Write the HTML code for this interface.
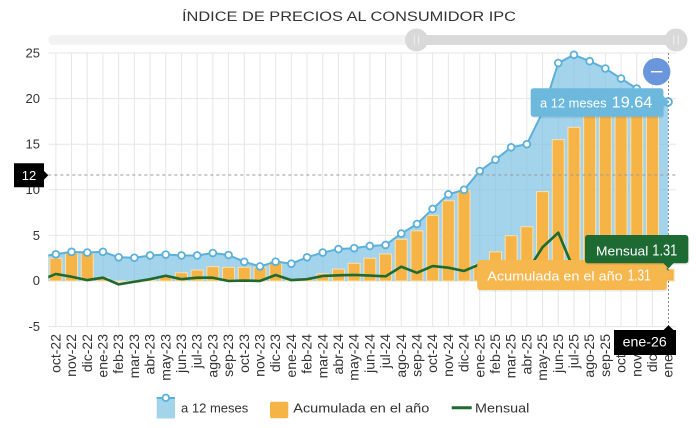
<!DOCTYPE html>
<html>
<head>
<meta charset="utf-8">
<style>
  html,body{margin:0;padding:0;background:#fff;}
  svg{display:block;font-family:"Liberation Sans",sans-serif;}
</style>
</head>
<body>
<svg width="696" height="428" viewBox="0 0 696 428" xmlns="http://www.w3.org/2000/svg">
  <defs>
    <clipPath id="plot"><rect x="48.3" y="40" width="628" height="300"/></clipPath>
  </defs>
  <rect width="696" height="428" fill="#fff"/>

  <!-- Title -->
  <text x="182" y="21" font-size="13.5" fill="#333" textLength="334" lengthAdjust="spacingAndGlyphs">ÍNDICE DE PRECIOS AL CONSUMIDOR IPC</text>

  <!-- Navigator / scrollbar -->
  <rect x="48.3" y="35" width="365" height="9.8" rx="4.9" fill="#f2f2f2"/>
  <rect x="408" y="35" width="277" height="10" rx="5" fill="#d9d9d9"/>
  <circle cx="416.5" cy="40" r="11.5" fill="#d9d9d9"/>
  <line x1="414.3" y1="35.5" x2="414.3" y2="44.5" stroke="#f2f2f2" stroke-width="1"/>
  <line x1="418.7" y1="35.5" x2="418.7" y2="44.5" stroke="#f2f2f2" stroke-width="1"/>
  <circle cx="676" cy="40" r="11.5" fill="#d9d9d9"/>
  <line x1="673.8" y1="35.5" x2="673.8" y2="44.5" stroke="#f2f2f2" stroke-width="1"/>
  <line x1="678.2" y1="35.5" x2="678.2" y2="44.5" stroke="#f2f2f2" stroke-width="1"/>

  <!-- Horizontal gridlines -->
  <g stroke="#e6e6e6" stroke-width="1">
    <line x1="48.3" y1="53" x2="676" y2="53"/>
    <line x1="48.3" y1="98.6" x2="676" y2="98.6"/>
    <line x1="48.3" y1="144.2" x2="676" y2="144.2"/>
    <line x1="48.3" y1="189.8" x2="676" y2="189.8"/>
    <line x1="48.3" y1="235.4" x2="676" y2="235.4"/>
    <line x1="48.3" y1="281" x2="676" y2="281"/>
    <line x1="48.3" y1="326.6" x2="676" y2="326.6"/>
  </g>
  <!-- Vertical gridlines -->
  <g stroke="#e6e6e6" stroke-width="1">
    <line x1="55.85" y1="53" x2="55.85" y2="326.6"/><line x1="71.55" y1="53" x2="71.55" y2="326.6"/>
    <line x1="87.25" y1="53" x2="87.25" y2="326.6"/><line x1="102.95" y1="53" x2="102.95" y2="326.6"/>
    <line x1="118.65" y1="53" x2="118.65" y2="326.6"/><line x1="134.35" y1="53" x2="134.35" y2="326.6"/>
    <line x1="150.05" y1="53" x2="150.05" y2="326.6"/><line x1="165.75" y1="53" x2="165.75" y2="326.6"/>
    <line x1="181.45" y1="53" x2="181.45" y2="326.6"/><line x1="197.15" y1="53" x2="197.15" y2="326.6"/>
    <line x1="212.85" y1="53" x2="212.85" y2="326.6"/><line x1="228.55" y1="53" x2="228.55" y2="326.6"/>
    <line x1="244.25" y1="53" x2="244.25" y2="326.6"/><line x1="259.95" y1="53" x2="259.95" y2="326.6"/>
    <line x1="275.65" y1="53" x2="275.65" y2="326.6"/><line x1="291.35" y1="53" x2="291.35" y2="326.6"/>
    <line x1="307.05" y1="53" x2="307.05" y2="326.6"/><line x1="322.75" y1="53" x2="322.75" y2="326.6"/>
    <line x1="338.45" y1="53" x2="338.45" y2="326.6"/><line x1="354.15" y1="53" x2="354.15" y2="326.6"/>
    <line x1="369.85" y1="53" x2="369.85" y2="326.6"/><line x1="385.55" y1="53" x2="385.55" y2="326.6"/>
    <line x1="401.25" y1="53" x2="401.25" y2="326.6"/><line x1="416.95" y1="53" x2="416.95" y2="326.6"/>
    <line x1="432.65" y1="53" x2="432.65" y2="326.6"/><line x1="448.35" y1="53" x2="448.35" y2="326.6"/>
    <line x1="464.05" y1="53" x2="464.05" y2="326.6"/><line x1="479.75" y1="53" x2="479.75" y2="326.6"/>
    <line x1="495.45" y1="53" x2="495.45" y2="326.6"/><line x1="511.15" y1="53" x2="511.15" y2="326.6"/>
    <line x1="526.85" y1="53" x2="526.85" y2="326.6"/><line x1="542.55" y1="53" x2="542.55" y2="326.6"/>
    <line x1="558.25" y1="53" x2="558.25" y2="326.6"/><line x1="573.95" y1="53" x2="573.95" y2="326.6"/>
    <line x1="589.65" y1="53" x2="589.65" y2="326.6"/><line x1="605.35" y1="53" x2="605.35" y2="326.6"/>
    <line x1="621.05" y1="53" x2="621.05" y2="326.6"/><line x1="636.75" y1="53" x2="636.75" y2="326.6"/>
    <line x1="652.45" y1="53" x2="652.45" y2="326.6"/>
  </g>

  <!-- Y axis labels -->
  <g font-size="13" fill="#333" text-anchor="end">
    <text x="40" y="57.5">25</text>
    <text x="40" y="103">20</text>
    <text x="40" y="148.6">15</text>
    <text x="40" y="194.2">10</text>
    <text x="40" y="239.8">5</text>
    <text x="40" y="285.2">0</text>
    <text x="40" y="331">-5</text>
  </g>

  <g clip-path="url(#plot)">
    <!-- Area fill (a 12 meses) -->
    <path fill="#7ec2e2" fill-opacity="0.7" d="M40.15,281 L40.15,256.38 L55.85,254.28 L71.55,251.82 L87.25,252.55 L102.95,251.82 L118.65,257.29 L134.35,257.74 L150.05,255.46 L165.75,254.55 L181.45,255.46 L197.15,255.46 L212.85,253.00 L228.55,255.01 L244.25,261.85 L259.95,266.41 L275.65,261.67 L291.35,263.67 L307.05,257.29 L322.75,252.55 L338.45,249.08 L354.15,248.17 L369.85,245.98 L385.55,244.98 L401.25,233.58 L416.95,224.00 L432.65,208.95 L448.35,194.36 L464.05,189.80 L479.75,171.01 L495.45,159.70 L511.15,147.30 L526.85,144.20 L542.55,112.28 L558.25,63.03 L573.95,54.82 L589.65,61.21 L605.35,68.50 L621.05,78.54 L636.75,88.57 L652.45,95.86 L668.15,101.88 L668.15,281 Z"/>

    <!-- Bars (Acumulada en el año) -->
    <g fill="#f6b447" stroke="#fbe0b0" stroke-width="1">
      <rect x="49.85" y="258.29" width="12" height="22.71"/>
      <rect x="65.55" y="252.73" width="12" height="28.27"/>
      <rect x="81.25" y="252.55" width="12" height="28.45"/>
      <rect x="96.95" y="277.72" width="12" height="3.28"/>
      <rect x="112.65" y="281" width="12" height="0.91"/>
      <rect x="128.35" y="281" width="12" height="1.37"/>
      <rect x="144.05" y="280.09" width="12" height="0.91"/>
      <rect x="159.75" y="276.44" width="12" height="4.56"/>
      <rect x="175.45" y="272.79" width="12" height="8.21"/>
      <rect x="191.15" y="270.06" width="12" height="10.94"/>
      <rect x="206.85" y="266.68" width="12" height="14.32"/>
      <rect x="222.55" y="267.32" width="12" height="13.68"/>
      <rect x="238.25" y="267.32" width="12" height="13.68"/>
      <rect x="253.95" y="267.32" width="12" height="13.68"/>
      <rect x="269.65" y="261.67" width="12" height="19.33"/>
      <rect x="285.35" y="280.09" width="12" height="0.91"/>
      <rect x="301.05" y="278.26" width="12" height="2.74"/>
      <rect x="316.75" y="273.70" width="12" height="7.30"/>
      <rect x="332.45" y="269.14" width="12" height="11.86"/>
      <rect x="348.15" y="263.31" width="12" height="17.69"/>
      <rect x="363.85" y="258.20" width="12" height="22.80"/>
      <rect x="379.55" y="254.00" width="12" height="27.00"/>
      <rect x="395.25" y="239.32" width="12" height="41.68"/>
      <rect x="410.95" y="230.84" width="12" height="50.16"/>
      <rect x="426.65" y="215.34" width="12" height="65.66"/>
      <rect x="442.35" y="200.74" width="12" height="80.26"/>
      <rect x="458.05" y="190.71" width="12" height="90.29"/>
      <rect x="473.75" y="264.58" width="12" height="16.42"/>
      <rect x="489.45" y="251.82" width="12" height="29.18"/>
      <rect x="505.15" y="235.67" width="12" height="45.33"/>
      <rect x="520.85" y="226.74" width="12" height="54.26"/>
      <rect x="536.55" y="191.62" width="12" height="89.38"/>
      <rect x="552.25" y="139.64" width="12" height="141.36"/>
      <rect x="567.95" y="127.33" width="12" height="153.67"/>
      <rect x="583.65" y="114.10" width="12" height="166.90"/>
      <rect x="599.35" y="111.38" width="12" height="169.62"/>
      <rect x="615.05" y="107.72" width="12" height="173.28"/>
      <rect x="630.75" y="102.25" width="12" height="178.75"/>
      <rect x="646.45" y="95.86" width="12" height="185.14"/>
      <rect x="662.15" y="269.05" width="12" height="11.95"/>
    </g>

    <!-- Area line -->
    <polyline fill="none" stroke="#5bb0da" stroke-width="2" stroke-linejoin="round" points="40.15,256.38 55.85,254.28 71.55,251.82 87.25,252.55 102.95,251.82 118.65,257.29 134.35,257.74 150.05,255.46 165.75,254.55 181.45,255.46 197.15,255.46 212.85,253.00 228.55,255.01 244.25,261.85 259.95,266.41 275.65,261.67 291.35,263.67 307.05,257.29 322.75,252.55 338.45,249.08 354.15,248.17 369.85,245.98 385.55,244.98 401.25,233.58 416.95,224.00 432.65,208.95 448.35,194.36 464.05,189.80 479.75,171.01 495.45,159.70 511.15,147.30 526.85,144.20 542.55,112.28 558.25,63.03 573.95,54.82 589.65,61.21 605.35,68.50 621.05,78.54 636.75,88.57 652.45,95.86 668.15,101.88"/>

    <!-- Markers -->
    <g fill="#fff" stroke="#5bb0da" stroke-width="1.8">
      <circle cx="55.85" cy="254.28" r="3.4"/><circle cx="71.55" cy="251.82" r="3.4"/>
      <circle cx="87.25" cy="252.55" r="3.4"/><circle cx="102.95" cy="251.82" r="3.4"/>
      <circle cx="118.65" cy="257.29" r="3.4"/><circle cx="134.35" cy="257.74" r="3.4"/>
      <circle cx="150.05" cy="255.46" r="3.4"/><circle cx="165.75" cy="254.55" r="3.4"/>
      <circle cx="181.45" cy="255.46" r="3.4"/><circle cx="197.15" cy="255.46" r="3.4"/>
      <circle cx="212.85" cy="253.00" r="3.4"/><circle cx="228.55" cy="255.01" r="3.4"/>
      <circle cx="244.25" cy="261.85" r="3.4"/><circle cx="259.95" cy="266.41" r="3.4"/>
      <circle cx="275.65" cy="261.67" r="3.4"/><circle cx="291.35" cy="263.67" r="3.4"/>
      <circle cx="307.05" cy="257.29" r="3.4"/><circle cx="322.75" cy="252.55" r="3.4"/>
      <circle cx="338.45" cy="249.08" r="3.4"/><circle cx="354.15" cy="248.17" r="3.4"/>
      <circle cx="369.85" cy="245.98" r="3.4"/><circle cx="385.55" cy="244.98" r="3.4"/>
      <circle cx="401.25" cy="233.58" r="3.4"/><circle cx="416.95" cy="224.00" r="3.4"/>
      <circle cx="432.65" cy="208.95" r="3.4"/><circle cx="448.35" cy="194.36" r="3.4"/>
      <circle cx="464.05" cy="189.80" r="3.4"/><circle cx="479.75" cy="171.01" r="3.4"/>
      <circle cx="495.45" cy="159.70" r="3.4"/><circle cx="511.15" cy="147.30" r="3.4"/>
      <circle cx="526.85" cy="144.20" r="3.4"/><circle cx="542.55" cy="112.28" r="3.4"/>
      <circle cx="558.25" cy="63.03" r="3.4"/><circle cx="573.95" cy="54.82" r="3.4"/>
      <circle cx="589.65" cy="61.21" r="3.4"/><circle cx="605.35" cy="68.50" r="3.4"/>
      <circle cx="621.05" cy="78.54" r="3.4"/><circle cx="636.75" cy="88.57" r="3.4"/>
      <circle cx="652.45" cy="95.86" r="3.4"/><circle cx="668.15" cy="101.88" r="3.8"/>
    </g>

    <!-- Mensual line -->
    <polyline fill="none" stroke="#1f6a30" stroke-width="2.6" stroke-linejoin="round" points="40.15,280.36 55.85,273.98 71.55,276.71 87.25,280.09 102.95,277.72 118.65,284.37 134.35,281.73 150.05,279.18 165.75,275.71 181.45,279.18 197.15,277.72 212.85,277.72 228.55,281 244.25,280.54 259.95,281 275.65,274.98 291.35,280.09 307.05,279.18 322.75,275.98 338.45,275.35 354.15,274.98 369.85,275.53 385.55,276.35 401.25,266.68 416.95,272.79 432.65,266.04 448.35,267.68 464.05,270.97 479.75,264.31 495.45,268.23 511.15,265.50 526.85,271.88 542.55,247.26 558.25,232.66 573.95,270.06 589.65,271.88 605.35,276.44 621.05,277.35 636.75,276.44 652.45,275.53 668.15,269.05"/>
  </g>

  <!-- Crosshairs -->
  <line x1="48.3" y1="175" x2="676" y2="175" stroke="#9a9a9a" stroke-width="1" stroke-dasharray="3,3"/>
  <line x1="668.5" y1="53" x2="668.5" y2="327" stroke="#8a8a8a" stroke-width="1" stroke-dasharray="2,2"/>

  <!-- X axis labels -->
  <g font-size="14" fill="#333" text-anchor="end">
    <text transform="translate(60.35,334) rotate(-90)">oct-22</text>
    <text transform="translate(76.05,334) rotate(-90)">nov-22</text>
    <text transform="translate(91.75,334) rotate(-90)">dic-22</text>
    <text transform="translate(107.45,334) rotate(-90)">ene-23</text>
    <text transform="translate(123.15,334) rotate(-90)">feb-23</text>
    <text transform="translate(138.85,334) rotate(-90)">mar-23</text>
    <text transform="translate(154.55,334) rotate(-90)">abr-23</text>
    <text transform="translate(170.25,334) rotate(-90)">may-23</text>
    <text transform="translate(185.95,334) rotate(-90)">jun-23</text>
    <text transform="translate(201.65,334) rotate(-90)">jul-23</text>
    <text transform="translate(217.35,334) rotate(-90)">ago-23</text>
    <text transform="translate(233.05,334) rotate(-90)">sep-23</text>
    <text transform="translate(248.75,334) rotate(-90)">oct-23</text>
    <text transform="translate(264.45,334) rotate(-90)">nov-23</text>
    <text transform="translate(280.15,334) rotate(-90)">dic-23</text>
    <text transform="translate(295.85,334) rotate(-90)">ene-24</text>
    <text transform="translate(311.55,334) rotate(-90)">feb-24</text>
    <text transform="translate(327.25,334) rotate(-90)">mar-24</text>
    <text transform="translate(342.95,334) rotate(-90)">abr-24</text>
    <text transform="translate(358.65,334) rotate(-90)">may-24</text>
    <text transform="translate(374.35,334) rotate(-90)">jun-24</text>
    <text transform="translate(390.05,334) rotate(-90)">jul-24</text>
    <text transform="translate(405.75,334) rotate(-90)">ago-24</text>
    <text transform="translate(421.45,334) rotate(-90)">sep-24</text>
    <text transform="translate(437.15,334) rotate(-90)">oct-24</text>
    <text transform="translate(452.85,334) rotate(-90)">nov-24</text>
    <text transform="translate(468.55,334) rotate(-90)">dic-24</text>
    <text transform="translate(484.25,334) rotate(-90)">ene-25</text>
    <text transform="translate(499.95,334) rotate(-90)">feb-25</text>
    <text transform="translate(515.65,334) rotate(-90)">mar-25</text>
    <text transform="translate(531.35,334) rotate(-90)">abr-25</text>
    <text transform="translate(547.05,334) rotate(-90)">may-25</text>
    <text transform="translate(562.75,334) rotate(-90)">jun-25</text>
    <text transform="translate(578.45,334) rotate(-90)">jul-25</text>
    <text transform="translate(594.15,334) rotate(-90)">ago-25</text>
    <text transform="translate(609.85,334) rotate(-90)">sep-25</text>
    <text transform="translate(625.55,334) rotate(-90)">oct-25</text>
    <text transform="translate(641.25,334) rotate(-90)">nov-25</text>
    <text transform="translate(656.95,334) rotate(-90)">dic-25</text>
    <text transform="translate(672.65,334) rotate(-90)">ene-26</text>
  </g>

  <!-- Minus button -->
  <circle cx="656.7" cy="71.7" r="13.7" fill="#6a96de"/>
  <line x1="651" y1="71.7" x2="662.4" y2="71.7" stroke="#fff" stroke-width="1.4"/>

  <!-- Tooltip: a 12 meses -->
  <rect x="531.7" y="89.8" width="132.6" height="28.4" rx="3" fill="#000" opacity="0.08"/>
  <path d="M533.7,88.3 H660.3 Q663.3,88.3 663.3,91.3 V96 L669.5,101.9 L663.3,107.5 V113.7 Q663.3,116.7 660.3,116.7 H533.7 Q530.7,116.7 530.7,113.7 V91.3 Q530.7,88.3 533.7,88.3 Z" fill="#6cb9dd"/>
  <text x="540" y="107.3" font-size="13" fill="#fff" textLength="66.5" lengthAdjust="spacingAndGlyphs">a 12 meses</text>
  <text x="611.7" y="107.3" font-size="16" fill="#fff" textLength="40.6" lengthAdjust="spacingAndGlyphs">19.64</text>

  <!-- Tooltip: Acumulada -->
  <rect x="478.3" y="261.5" width="189.4" height="30" rx="3" fill="#000" opacity="0.08"/>
  <path d="M480.3,260 H663.7 Q666.7,260 666.7,263 V269 L672,275 L666.7,281 V287 Q666.7,290 663.7,290 H480.3 Q477.3,290 477.3,287 V263 Q477.3,260 480.3,260 Z" fill="#f6b84e"/>
  <text x="487.3" y="280.7" font-size="13" fill="#fff" textLength="135.4" lengthAdjust="spacingAndGlyphs">Acumulada en el año</text>
  <text x="627.7" y="280.7" font-size="16" fill="#fff" textLength="23" lengthAdjust="spacingAndGlyphs">1.31</text>

  <!-- Tooltip: Mensual -->
  <rect x="586" y="236.5" width="103.3" height="28.3" rx="3" fill="#000" opacity="0.08"/>
  <path d="M588,235 H685.3 Q688.3,235 688.3,238 V260.3 Q688.3,263.3 685.3,263.3 H673.5 L668.5,268.5 L663.5,263.3 H588 Q585,263.3 585,260.3 V238 Q585,235 588,235 Z" fill="#1e6a33"/>
  <text x="596" y="255.7" font-size="13" fill="#fff" textLength="52.3" lengthAdjust="spacingAndGlyphs">Mensual</text>
  <text x="652.3" y="255.7" font-size="16" fill="#fff" textLength="25" lengthAdjust="spacingAndGlyphs">1.31</text>

  <!-- Y crosshair label -->
  <path d="M14,163.3 H44 V171 L48.3,175.3 L44,179.6 V187.3 H14 Z" fill="#000"/>
  <text x="29" y="180" font-size="13" fill="#fff" text-anchor="middle">12</text>

  <!-- X crosshair label -->
  <path d="M614,330 H663.5 L668.5,325.3 L673.5,330 H676 V355 H614 Z" fill="#000"/>
  <text x="622.7" y="346.7" font-size="14" fill="#fff" textLength="44" lengthAdjust="spacingAndGlyphs">ene-26</text>

  <!-- Legend -->
  <rect x="156.7" y="397.5" width="18.3" height="21" fill="#7ec2e2" fill-opacity="0.7"/>
  <line x1="156.7" y1="398" x2="175" y2="398" stroke="#5bb0da" stroke-width="2"/>
  <circle cx="165.8" cy="397.8" r="3.3" fill="#fff" stroke="#5bb0da" stroke-width="1.8"/>
  <text x="181" y="412.3" font-size="13" fill="#333" textLength="67.3" lengthAdjust="spacingAndGlyphs">a 12 meses</text>

  <rect x="270" y="401.7" width="18.3" height="16.6" rx="2" fill="#f6b447"/>
  <text x="293.3" y="412.3" font-size="13" fill="#333" textLength="136" lengthAdjust="spacingAndGlyphs">Acumulada en el año</text>

  <line x1="451.7" y1="407.7" x2="471.7" y2="407.7" stroke="#1f6a30" stroke-width="3"/>
  <text x="475" y="412.3" font-size="13" fill="#333" textLength="54.3" lengthAdjust="spacingAndGlyphs">Mensual</text>
</svg>
</body>
</html>
